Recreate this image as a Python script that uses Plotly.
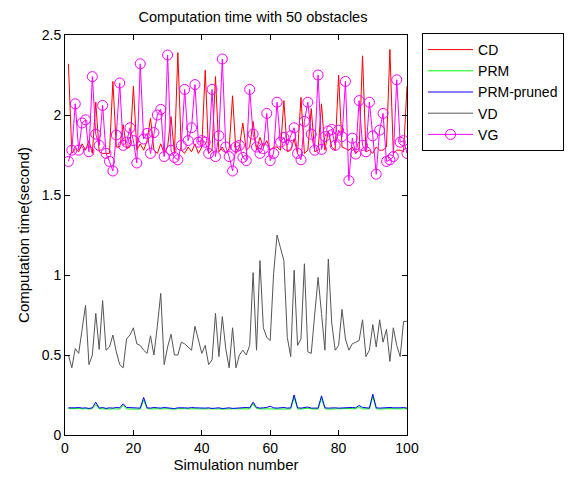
import plotly.graph_objects as go

sim = list(range(1, 101))

cd = [2.32,1.76,1.79,1.77,1.82,1.78,1.84,1.76,2.08,1.77,
      1.76,1.76,1.76,2.21,1.80,1.80,1.94,1.79,1.80,2.18,
      1.78,1.82,1.78,1.84,1.98,1.78,1.76,1.82,1.76,1.80,
      1.99,1.76,2.39,1.78,1.76,1.80,1.77,1.82,1.76,1.80,
      2.28,1.76,1.78,2.24,1.77,1.80,1.76,1.79,2.12,1.76,
      1.80,1.95,1.78,1.80,1.96,1.78,1.86,1.80,1.84,1.78,
      1.80,1.80,1.78,2.09,1.77,1.78,1.85,1.76,2.11,1.76,
      1.78,2.04,1.77,1.78,2.07,1.78,1.90,1.80,1.78,2.25,
      1.80,1.79,1.78,1.80,1.76,1.78,2.37,1.77,1.78,1.76,
      1.80,1.78,1.78,1.80,2.41,1.76,1.78,1.78,1.77,2.18]

prm = [0.165,0.163,0.165,0.166,0.163,0.165,0.162,0.165,0.19,0.163,
       0.165,0.162,0.164,0.163,0.163,0.162,0.185,0.163,0.162,0.162,
       0.163,0.162,0.22,0.164,0.163,0.165,0.164,0.163,0.165,0.164,
       0.163,0.161,0.164,0.166,0.165,0.163,0.165,0.164,0.163,0.165,
       0.163,0.164,0.162,0.163,0.164,0.161,0.163,0.164,0.162,0.163,
       0.164,0.163,0.165,0.164,0.195,0.165,0.163,0.164,0.162,0.165,
       0.163,0.162,0.163,0.164,0.162,0.163,0.235,0.163,0.162,0.163,
       0.168,0.163,0.164,0.162,0.23,0.164,0.162,0.163,0.164,0.162,
       0.164,0.163,0.165,0.166,0.164,0.175,0.163,0.162,0.163,0.24,
       0.164,0.162,0.164,0.163,0.165,0.164,0.162,0.163,0.165,0.163]

prm_pruned = [0.17,0.168,0.17,0.172,0.168,0.17,0.166,0.17,0.205,0.168,
              0.172,0.166,0.17,0.168,0.172,0.17,0.195,0.172,0.17,0.168,
              0.17,0.168,0.235,0.17,0.168,0.172,0.17,0.168,0.172,0.17,
              0.168,0.165,0.17,0.172,0.17,0.168,0.172,0.17,0.168,0.17,
              0.168,0.17,0.166,0.168,0.17,0.165,0.168,0.17,0.166,0.168,
              0.17,0.168,0.172,0.17,0.205,0.172,0.168,0.17,0.172,0.18,
              0.17,0.168,0.17,0.172,0.168,0.17,0.25,0.17,0.168,0.17,
              0.175,0.168,0.17,0.168,0.245,0.17,0.168,0.17,0.17,0.168,
              0.17,0.168,0.17,0.172,0.17,0.185,0.172,0.17,0.168,0.255,
              0.17,0.168,0.17,0.168,0.172,0.17,0.168,0.17,0.172,0.168]

vd = [0.50,0.42,0.54,0.51,0.66,0.81,0.44,0.50,0.76,0.535,
      0.84,0.53,0.55,0.625,0.52,0.44,0.42,0.60,0.625,0.67,
      0.57,0.56,0.53,0.51,0.62,0.50,0.68,0.885,0.44,0.55,
      0.63,0.50,0.50,0.58,0.57,0.55,0.53,0.68,0.60,0.51,
      0.56,0.44,0.47,0.76,0.49,0.74,0.54,0.42,0.67,0.42,
      0.50,0.53,0.50,0.56,1.015,0.53,1.09,0.67,0.61,0.59,
      1.01,1.25,1.17,1.09,0.61,0.49,1.03,0.56,0.60,1.07,
      0.52,0.51,0.75,0.985,0.76,0.53,1.10,0.70,0.53,0.56,
      0.785,0.60,0.53,0.57,0.58,0.59,0.72,0.49,0.53,0.69,
      0.55,0.72,0.58,0.66,0.46,0.67,0.56,0.49,0.71,0.71]

vg = [1.71,1.78,2.07,1.78,1.95,1.97,1.77,2.24,1.88,1.81,
      2.06,1.76,1.71,1.65,1.875,2.20,1.81,1.83,1.92,1.84,
      1.70,2.32,1.85,1.885,1.76,1.89,2.00,2.035,1.74,2.375,
      1.78,1.735,1.72,1.81,2.16,1.84,1.92,2.19,1.83,1.84,
      1.83,1.76,2.16,1.74,1.87,2.35,1.80,1.74,1.65,1.80,
      1.81,1.735,1.715,2.16,1.88,1.80,1.76,1.79,2.01,1.715,
      1.76,2.08,1.83,1.86,1.81,1.87,1.92,1.76,1.72,1.96,
      2.08,1.88,1.78,2.25,1.785,1.865,1.90,1.91,1.81,1.905,
      1.865,2.21,1.59,1.855,1.756,2.09,1.81,1.77,2.08,1.87,
      1.63,1.905,2.01,1.71,1.72,1.74,2.22,1.83,1.84,1.76]

FONT = "Liberation Sans, Arial, Helvetica, sans-serif"

fig = go.Figure()
fig.add_trace(go.Scatter(x=sim, y=cd, name="CD", mode="lines",
                         line=dict(color="#ff0000", width=1)))
fig.add_trace(go.Scatter(x=sim, y=prm, name="PRM", mode="lines",
                         line=dict(color="#00ff00", width=1)))
fig.add_trace(go.Scatter(x=sim, y=prm_pruned, name="PRM-pruned", mode="lines",
                         line=dict(color="#0000ff", width=1)))
fig.add_trace(go.Scatter(x=sim, y=vd, name="VD", mode="lines",
                         line=dict(color="#555555", width=1)))
fig.add_trace(go.Scatter(x=sim, y=vg, name="VG", mode="lines+markers",
                         line=dict(color="#ff00ff", width=1),
                         marker=dict(symbol="circle-open", size=10,
                                     color="#ff00ff", line=dict(width=1))))

fig.update_layout(
    width=576, height=477,
    margin=dict(l=65, r=169, t=35, b=42, autoexpand=False),
    paper_bgcolor="white", plot_bgcolor="white",
    font=dict(family=FONT, size=14, color="black"),
    title=dict(text="Computation time with 50 obstacles",
               x=253 / 576, xanchor="center",
               y=1 - 17 / 477, yanchor="middle",
               font=dict(family=FONT, size=14.5, color="black")),
    showlegend=True,
    legend=dict(x=1.044, y=1.005, xanchor="left", yanchor="top",
                bordercolor="black", borderwidth=1, bgcolor="white",
                font=dict(family=FONT, size=14, color="black"),
                itemwidth=45, tracegroupgap=0),
)
fig.update_xaxes(range=[0, 100], tickvals=[0, 20, 40, 60, 80, 100],
                 ticks="inside", ticklen=5, tickcolor="black",
                 showline=True, linecolor="black", linewidth=1, mirror="ticks",
                 showgrid=False, zeroline=False, automargin=False,
                 title=dict(text="Simulation number", standoff=4,
                            font=dict(family=FONT, size=15)),
                 tickfont=dict(family=FONT, size=14))
fig.update_yaxes(range=[0, 2.5], tickvals=[0, 0.5, 1, 1.5, 2, 2.5],
                 ticktext=["0", "0.5", "1", "1.5", "2", "2.5"],
                 ticks="inside", ticklen=5, tickcolor="black",
                 showline=True, linecolor="black", linewidth=1, mirror="ticks",
                 showgrid=False, zeroline=False, automargin=False,
                 title=dict(text="Computation time(second)", standoff=8,
                            font=dict(family=FONT, size=15)),
                 tickfont=dict(family=FONT, size=14))

fig.write_html("out.html")
